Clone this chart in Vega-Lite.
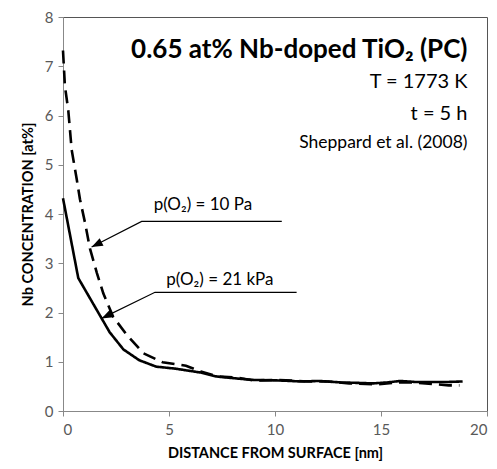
{
  "$schema": "https://vega.github.io/schema/vega-lite/v6.json",
  "width": 424,
  "height": 394,
  "autosize": {"type": "none"},
  "padding": {"left": 63, "top": 17, "right": 10, "bottom": 58},
  "background": "white",
  "config": {
    "font": "Lato",
    "view": {"stroke": "#555555", "strokeWidth": 1},
    "axis": {
      "grid": false,
      "labelFont": "Lato",
      "labelFontSize": 15,
      "labelColor": "#595959",
      "domainColor": "#888888",
      "tickColor": "#888888",
      "tickSize": 5,
      "titleFont": "Lato",
      "titleFontWeight": "bold",
      "titleFontSize": 14.5,
      "titleColor": "#000000"
    }
  },
  "datasets": {
    "curves": [
      {"series": "21 kPa", "d": 0, "c": 4.32},
      {"series": "21 kPa", "d": 0.72, "c": 2.7},
      {"series": "21 kPa", "d": 1.5, "c": 2.12},
      {"series": "21 kPa", "d": 2.2, "c": 1.6},
      {"series": "21 kPa", "d": 2.85, "c": 1.25},
      {"series": "21 kPa", "d": 3.6, "c": 1.03},
      {"series": "21 kPa", "d": 4.4, "c": 0.9},
      {"series": "21 kPa", "d": 5.3, "c": 0.86},
      {"series": "21 kPa", "d": 5.9, "c": 0.82},
      {"series": "21 kPa", "d": 6.5, "c": 0.78},
      {"series": "21 kPa", "d": 7.25, "c": 0.7},
      {"series": "21 kPa", "d": 8.2, "c": 0.66},
      {"series": "21 kPa", "d": 9.0, "c": 0.63},
      {"series": "21 kPa", "d": 10.2, "c": 0.62},
      {"series": "21 kPa", "d": 11.2, "c": 0.6},
      {"series": "21 kPa", "d": 12.1, "c": 0.61},
      {"series": "21 kPa", "d": 13.1, "c": 0.58},
      {"series": "21 kPa", "d": 14.0, "c": 0.57},
      {"series": "21 kPa", "d": 14.6, "c": 0.56},
      {"series": "21 kPa", "d": 15.3, "c": 0.58},
      {"series": "21 kPa", "d": 15.9, "c": 0.61},
      {"series": "21 kPa", "d": 16.6, "c": 0.59},
      {"series": "21 kPa", "d": 17.4, "c": 0.59},
      {"series": "21 kPa", "d": 18.2, "c": 0.59},
      {"series": "21 kPa", "d": 18.85, "c": 0.6},
      {"series": "10 Pa", "d": 0, "c": 7.32},
      {"series": "10 Pa", "d": 0.09, "c": 6.6},
      {"series": "10 Pa", "d": 0.25, "c": 6.1},
      {"series": "10 Pa", "d": 0.41, "c": 5.3},
      {"series": "10 Pa", "d": 0.65, "c": 4.7},
      {"series": "10 Pa", "d": 0.8, "c": 4.3},
      {"series": "10 Pa", "d": 1.05, "c": 3.8},
      {"series": "10 Pa", "d": 1.27, "c": 3.3},
      {"series": "10 Pa", "d": 1.6, "c": 2.8},
      {"series": "10 Pa", "d": 1.9, "c": 2.39},
      {"series": "10 Pa", "d": 2.37, "c": 1.91},
      {"series": "10 Pa", "d": 3.0, "c": 1.55},
      {"series": "10 Pa", "d": 3.8, "c": 1.17},
      {"series": "10 Pa", "d": 4.7, "c": 0.99},
      {"series": "10 Pa", "d": 5.8, "c": 0.92},
      {"series": "10 Pa", "d": 6.5, "c": 0.8},
      {"series": "10 Pa", "d": 7.3, "c": 0.7},
      {"series": "10 Pa", "d": 8.2, "c": 0.68},
      {"series": "10 Pa", "d": 9.0, "c": 0.62},
      {"series": "10 Pa", "d": 10.2, "c": 0.63},
      {"series": "10 Pa", "d": 11.5, "c": 0.6},
      {"series": "10 Pa", "d": 12.5, "c": 0.6},
      {"series": "10 Pa", "d": 13.5, "c": 0.56},
      {"series": "10 Pa", "d": 14.8, "c": 0.54},
      {"series": "10 Pa", "d": 15.8, "c": 0.58},
      {"series": "10 Pa", "d": 16.5, "c": 0.58},
      {"series": "10 Pa", "d": 17.4, "c": 0.55},
      {"series": "10 Pa", "d": 18.2, "c": 0.52},
      {"series": "10 Pa", "d": 18.7, "c": 0.52}
    ],
    "leaders": [
      {"id": "a", "k": 0, "d": 10.32, "c": 3.85},
      {"id": "a", "k": 1, "d": 3.71, "c": 3.85},
      {"id": "a", "k": 2, "d": 1.35, "c": 3.33},
      {"id": "b", "k": 0, "d": 11.02, "c": 2.41},
      {"id": "b", "k": 1, "d": 4.34, "c": 2.41},
      {"id": "b", "k": 2, "d": 1.82, "c": 1.88}
    ],
    "heads": [
      {"id": "a", "d": 1.35, "c": 3.33, "ang": 243},
      {"id": "b", "d": 1.82, "c": 1.88, "ang": 244}
    ],
    "notes": [
      {"label": "p(O₂) = 10 Pa", "d": 6.6, "c": 4.18},
      {"label": "p(O₂) = 21 kPa", "d": 7.4, "c": 2.66}
    ],
    "title": [{"label": "0.65 at% Nb-doped TiO₂ (PC)", "d": 19.08, "c": 7.34}],
    "info": [
      {"label": "T = 1773 K", "d": 19.08, "c": 6.68},
      {"label": "t = 5 h", "d": 19.08, "c": 6.03}
    ],
    "cite": [{"label": "Sheppard et al. (2008)", "d": 19.08, "c": 5.45}]
  },
  "layer": [
    {
      "data": {"name": "curves"},
      "mark": {"type": "line", "color": "#000000", "strokeWidth": 2.6},
      "encoding": {
        "x": {"field": "d", "type": "quantitative", "scale": {"domain": [0, 20], "nice": false},
              "axis": {"values": [0, 5, 10, 15, 20], "title": "DISTANCE FROM SURFACE [nm]", "labelPadding": 6, "titlePadding": 9}},
        "y": {"field": "c", "type": "quantitative", "scale": {"domain": [0, 8], "nice": false},
              "axis": {"values": [0, 1, 2, 3, 4, 5, 6, 7, 8], "title": "Nb CONCENTRATION [at%]", "labelPadding": 5, "titlePadding": 9}},
        "strokeDash": {"field": "series", "type": "nominal",
                       "scale": {"domain": ["21 kPa", "10 Pa"], "range": [[1, 0], [13, 7]]}, "legend": null},
        "order": {"field": "d", "type": "quantitative"}
      }
    },
    {
      "data": {"name": "leaders"},
      "mark": {"type": "line", "color": "#000000", "strokeWidth": 1.2},
      "encoding": {
        "x": {"field": "d", "type": "quantitative"},
        "y": {"field": "c", "type": "quantitative"},
        "detail": {"field": "id", "type": "nominal"},
        "order": {"field": "k", "type": "quantitative"}
      }
    },
    {
      "data": {"name": "heads"},
      "mark": {"type": "point", "shape": "M0,0 L-0.38,1 L0.38,1 Z", "filled": true, "color": "#000000", "opacity": 1, "size": 500},
      "encoding": {
        "x": {"field": "d", "type": "quantitative"},
        "y": {"field": "c", "type": "quantitative"},
        "angle": {"field": "ang", "type": "quantitative", "scale": null}
      }
    },
    {
      "data": {"name": "notes"},
      "mark": {"type": "text", "font": "Lato", "fontSize": 17, "color": "#000000", "align": "center", "baseline": "middle"},
      "encoding": {
        "x": {"field": "d", "type": "quantitative"},
        "y": {"field": "c", "type": "quantitative"},
        "text": {"field": "label"}
      }
    },
    {
      "data": {"name": "title"},
      "mark": {"type": "text", "font": "Lato", "fontSize": 26, "fontWeight": "bold", "color": "#000000", "align": "right", "baseline": "middle"},
      "encoding": {
        "x": {"field": "d", "type": "quantitative"},
        "y": {"field": "c", "type": "quantitative"},
        "text": {"field": "label"}
      }
    },
    {
      "data": {"name": "info"},
      "mark": {"type": "text", "font": "Lato", "fontSize": 20, "color": "#000000", "align": "right", "baseline": "middle"},
      "encoding": {
        "x": {"field": "d", "type": "quantitative"},
        "y": {"field": "c", "type": "quantitative"},
        "text": {"field": "label"}
      }
    },
    {
      "data": {"name": "cite"},
      "mark": {"type": "text", "font": "Lato", "fontSize": 17.5, "color": "#000000", "align": "right", "baseline": "middle"},
      "encoding": {
        "x": {"field": "d", "type": "quantitative"},
        "y": {"field": "c", "type": "quantitative"},
        "text": {"field": "label"}
      }
    }
  ]
}
